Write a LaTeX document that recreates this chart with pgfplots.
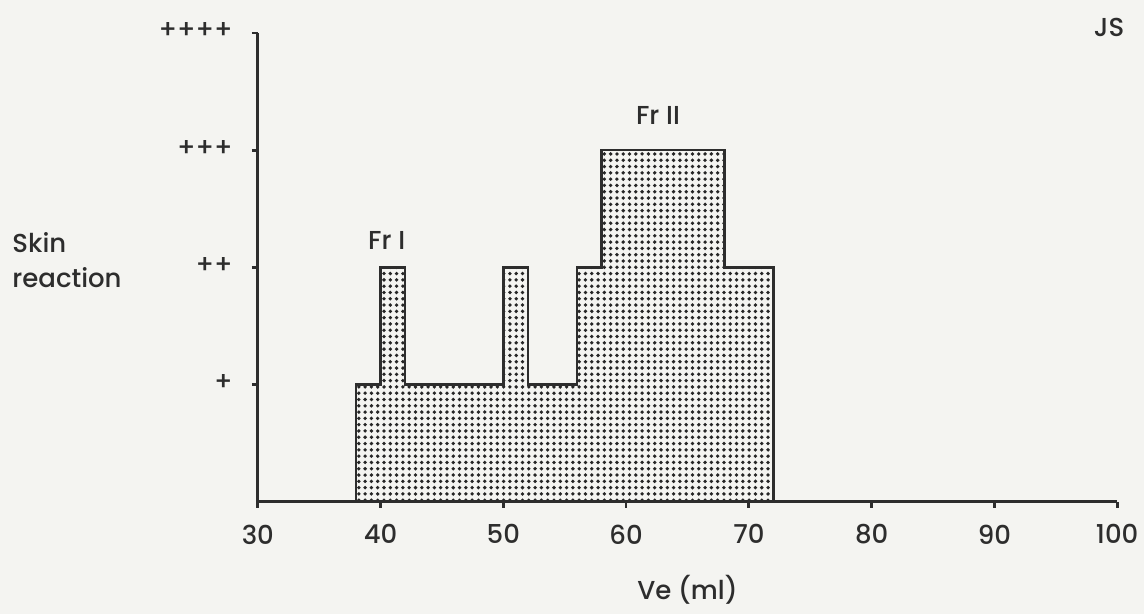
\documentclass[border=0pt]{standalone}
\usepackage{fontspec}
\setmainfont{Poppins}[UprightFont=* Medium]
\usepackage{pgfplots}
\pgfplotsset{compat=1.18}
\usetikzlibrary{patterns.meta}
\definecolor{paper}{RGB}{244,244,241}
\definecolor{ink}{RGB}{45,45,45}

\begin{document}
\begin{tikzpicture}
% paper sheet
\fill[paper] (-129pt,-56pt) rectangle (443.5pt,251pt);
\begin{axis}[
  at={(0,0)}, anchor=south west,
  scale only axis, width=430pt, height=234.5pt,
  xmin=30, xmax=100, ymin=0, ymax=4,
  axis lines*=left,
  axis line style={ink, line width=1.6pt, -},
  xtick={30,40,...,100},
  ytick={1,2,3,4}, yticklabels={+,++,+++,++++},
  tick align=outside, major tick length=3pt,
  tick style={ink, line width=1.4pt},
  font=\fontsize{13}{15}\selectfont,
  /pgf/number format/assume math mode=true,
  ticklabel style={ink},
  xticklabel style={yshift=-5pt},
  yticklabel style={xshift=-6pt, yshift=1pt},
  clip=false,
]
% skin reaction step profile
\addplot[const plot, draw=ink, line width=1.3pt,
  pattern={Dots[distance=3.15pt,radius=0.95pt]}, pattern color=black!85]
  coordinates {(38,1) (40,2) (42,1) (50,2) (52,1) (56,2) (58,3) (68,2) (72,2)} \closedcycle;

\node[ink, anchor=base] at (axis cs:40.5,2.15) {Fr I};
\node[ink, anchor=base] at (axis cs:62.6,3.215) {Fr II};
\node[ink, anchor=base] at (axis cs:99.35,3.974) {JS};
\node[ink, anchor=base] at (axis cs:65,-0.836) {Ve (ml)};
\node[ink, anchor=base west, inner sep=0pt] at (axis cs:9.98,2.13) {Skin};
\node[ink, anchor=base west, inner sep=0pt] at (axis cs:9.98,1.825) {reaction};
\end{axis}
\end{tikzpicture}
\end{document}
